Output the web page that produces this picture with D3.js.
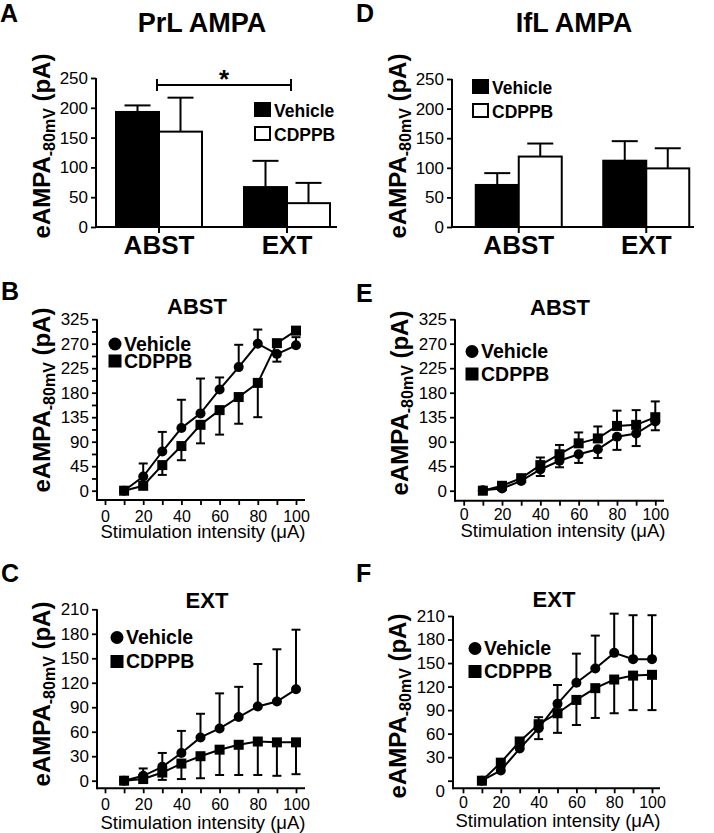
<!DOCTYPE html>
<html>
<head>
<meta charset="utf-8">
<script src="https://cdn.jsdelivr.net/npm/d3@7"></script>
<style>
body { margin: 0; background: #fff; }
svg { display: block; font-family: "Liberation Sans", Arial, sans-serif; }
</style>
</head>
<body>
<script>
// ---- data ----
var groups = ["ABST", "EXT"];
var seriesNames = ["Vehicle", "CDPPB"];

// A: PrL AMPA (bars, mean + sem)
var prlVehicle = [193, 67];
var prlVehicleSem = [11, 44];
var prlCdppb = [160, 40];
var prlCdppbSem = [57, 34];

// D: IfL AMPA
var iflVehicle = [71, 112];
var iflVehicleSem = [20, 33];
var iflCdppb = [119, 99];
var iflCdppbSem = [22, 34];

var intensity = [10, 20, 30, 40, 50, 60, 70, 80, 90, 100];

// sem: positive = bar drawn upward, negative = drawn downward
// B: PrL ABST
var prlAbstVehicle = [0, 26, 72, 115, 142, 186, 227, 270, 251, 267];
var prlAbstVehicleSem = [0, 24, 36, 52, 64, 22, 41, 26, -14, 15];
var prlAbstCdppb = [0, 9, 47, 82, 121, 148, 172, 198, 271, 294];
var prlAbstCdppbSem = [0, 0, -18, -26, -34, -45, -49, -63, 0, 0];

// C: PrL EXT
var prlExtVehicle = [0, 6, 17, 34, 53, 64, 78, 91, 97, 112];
var prlExtVehicleSem = [0, 9, 17, 27, 29, 43, 37, 52, 64, 73];
var prlExtCdppb = [0, 2, 10, 21, 30, 38, 44, 48, 47, 47];
var prlExtCdppbSem = [0, 0, -9, -19, -27, -31, -37, -41, -41, -39];

// E: IfL ABST
var iflAbstVehicle = [1, 4, 18, 39, 55, 67, 76, 99, 105, 127];
var iflAbstVehicleSem = [0, 0, 0, -12, -12, -16, -16, -24, -23, -16];
var iflAbstCdppb = [0, 9, 23, 47, 67, 87, 96, 119, 121, 135];
var iflAbstCdppbSem = [0, 0, 0, 14, 17, 20, 22, 28, 27, 29];

// F: IfL EXT
var iflExtVehicle = [0, 13, 41, 67, 98, 125, 143, 163, 155, 155];
var iflExtVehicleSem = [0, 0, 0, 14, 24, 37, 42, 50, 56, 56];
var iflExtCdppb = [0, 23, 50, 72, 86, 103, 118, 129, 134, 135];
var iflExtCdppbSem = [0, 0, 0, -19, -25, -32, -38, -43, -44, -45];

// tick values / labels
var barTicks = [0, 50, 100, 150, 200, 250];
var abstTicks = [0, 45, 90, 135, 180, 225, 270, 315];
var abstTickLabels = ["0", "45", "90", "135", "180", "225", "270", "325"];
var abstMinor = [22.5, 67.5, 112.5, 157.5, 202.5, 247.5, 292.5];
var extTicks = [0, 30, 60, 90, 120, 150, 180, 210];
var xTicks = [0, 10, 20, 30, 40, 50, 60, 70, 80, 90, 100];

var svg = d3.select("body").append("svg")
    .attr("width", 714)
    .attr("height", 833);

svg.append("rect").attr("width", 714).attr("height", 833).attr("fill", "#fff");

function panelLetter(t, x, y) {
    svg.append("text").attr("x", x).attr("y", y)
        .attr("font-size", 25).attr("font-weight", "bold")
        .text(t);
}

function yLabel(x, y) {
    var t = svg.append("text")
        .attr("transform", "translate(" + x + "," + y + ") rotate(-90)")
        .attr("text-anchor", "middle")
        .attr("font-size", 24).attr("font-weight", "bold");
    t.append("tspan").text("eAMPA");
    t.append("tspan").attr("font-size", 16).attr("dy", 5).text("-80mV");
    t.append("tspan").attr("dy", -5).text(" (pA)");
}

function styleAxis(g, size) {
    g.attr("font-family", null).attr("font-size", size);
    g.selectAll(".tick line").attr("stroke-width", 1.8);
    g.selectAll(".tick text").filter(function() { return this.textContent === ""; }).remove();
    g.select(".domain").remove();
}

// ---- bar panels (A, D) ----
function barPanel(p) {
    var y = d3.scaleLinear().domain([0, 250]).range([p.y0, p.yTop]);
    var x = d3.scaleBand().domain(groups).range(p.band);
    var sub = d3.scaleBand().domain(seriesNames).range([0, 2 * p.barW]);

    panelLetter(p.letter, p.letterX, 22);
    svg.append("text").attr("x", p.titleX).attr("y", 32)
        .attr("text-anchor", "middle").attr("font-size", 27).attr("font-weight", "bold")
        .text(p.title);
    yLabel(p.axisX - 46, 146);

    var ya = svg.append("g").attr("transform", "translate(" + p.axisX + ",0)")
        .call(d3.axisLeft(y).tickValues(barTicks).tickSize(5).tickPadding(3));
    styleAxis(ya, 17);

    var rows = groups.map(function(g, i) {
        return [
            { g: g, s: "Vehicle", v: p.veh[i], e: p.vehSem[i], fill: "#000" },
            { g: g, s: "CDPPB", v: p.cd[i], e: p.cdSem[i], fill: "#fff" }
        ];
    });
    var flat = [].concat.apply([], rows);

    // error bars (upward only)
    var eb = svg.append("g").attr("stroke", "#000").attr("stroke-width", 2);
    flat.forEach(function(d) {
        var cx = x(d.g) + x.bandwidth() / 2 - p.barW + sub(d.s) + sub.bandwidth() / 2;
        eb.append("line").attr("x1", cx).attr("x2", cx).attr("y1", y(d.v)).attr("y2", y(d.v + d.e));
        eb.append("line").attr("x1", cx - 13).attr("x2", cx + 13).attr("y1", y(d.v + d.e)).attr("y2", y(d.v + d.e));
    });

    svg.append("g").selectAll("rect").data(flat).enter().append("rect")
        .attr("x", function(d) { return x(d.g) + x.bandwidth() / 2 - p.barW + sub(d.s); })
        .attr("y", function(d) { return y(d.v); })
        .attr("width", sub.bandwidth())
        .attr("height", function(d) { return y(0) - y(d.v); })
        .attr("fill", function(d) { return d.fill; })
        .attr("stroke", "#000").attr("stroke-width", 2);

    // axes lines
    svg.append("line").attr("x1", p.axisX).attr("x2", p.axisX)
        .attr("y1", y(250)).attr("y2", y(0) + 1).attr("stroke", "#000").attr("stroke-width", 2);
    svg.append("line").attr("x1", p.axisX).attr("x2", p.xEnd)
        .attr("y1", y(0)).attr("y2", y(0)).attr("stroke", "#000").attr("stroke-width", 2);
    groups.forEach(function(g) {
        var cx = x(g) + x.bandwidth() / 2;
        svg.append("line").attr("x1", cx).attr("x2", cx).attr("y1", y(0)).attr("y2", y(0) + 6)
            .attr("stroke", "#000").attr("stroke-width", 2);
        svg.append("text").attr("x", cx).attr("y", 254)
            .attr("text-anchor", "middle").attr("font-size", 26).attr("font-weight", "bold")
            .text(g);
    });

    // legend
    [["Vehicle", "#000"], ["CDPPB", "#fff"]].forEach(function(l, i) {
        var ly = p.legY + i * 24;
        svg.append("rect").attr("x", p.legX).attr("y", ly - 14).attr("width", 15).attr("height", 13)
            .attr("fill", l[1]).attr("stroke", "#000").attr("stroke-width", 2);
        svg.append("text").attr("x", p.legX + 19).attr("y", ly)
            .attr("font-size", 17.5).attr("font-weight", "bold").text(l[0]);
    });
    return { x: x, y: y };
}

var pa = barPanel({
    letter: "A", letterX: 0, title: "PrL AMPA", titleX: 202,
    axisX: 96, xEnd: 337, y0: 227, yTop: 78, band: [95, 351], barW: 43,
    veh: prlVehicle, vehSem: prlVehicleSem, cd: prlCdppb, cdSem: prlCdppbSem,
    legX: 255, legY: 117
});

// significance bracket ABST vs EXT in A
(function() {
    var x1 = pa.x("ABST") + pa.x.bandwidth() / 2 - 2, x2 = pa.x("EXT") + pa.x.bandwidth() / 2 + 4;
    var g = svg.append("g").attr("stroke", "#000").attr("stroke-width", 2);
    g.append("line").attr("x1", x1).attr("x2", x2).attr("y1", 85).attr("y2", 85);
    g.append("line").attr("x1", x1).attr("x2", x1).attr("y1", 79).attr("y2", 91);
    g.append("line").attr("x1", x2).attr("x2", x2).attr("y1", 79).attr("y2", 91);
    svg.append("text").attr("x", (x1 + x2) / 2).attr("y", 88)
        .attr("text-anchor", "middle").attr("font-size", 26).attr("font-weight", "bold").text("*");
})();

barPanel({
    letter: "D", letterX: 356, title: "IfL AMPA", titleX: 574,
    axisX: 452, xEnd: 694, y0: 227, yTop: 79, band: [455, 710], barW: 43,
    veh: iflVehicle, vehSem: iflVehicleSem, cd: iflCdppb, cdSem: iflCdppbSem,
    legX: 473, legY: 94
});

// ---- line panels (B, C, E, F) ----
function linePanel(p) {
    var x = d3.scaleLinear().domain([0, 100]).range(p.xRange);
    var y = d3.scaleLinear().domain([0, p.yMax]).range([p.y0, p.yTop]);

    panelLetter(p.letter, p.letterX, p.letterY);
    svg.append("text").attr("x", p.titleX).attr("y", p.titleY)
        .attr("text-anchor", "middle").attr("font-size", 22).attr("font-weight", "bold")
        .text(p.title);
    yLabel(p.axisX - 47, p.ylabY);

    var ya = svg.append("g").attr("transform", "translate(" + p.axisX + ",0)")
        .call(d3.axisLeft(y).tickValues(p.yTicks).tickSize(5).tickPadding(3)
            .tickFormat(function(d, i) { return p.yTickLabels ? p.yTickLabels[i] : d; }));
    styleAxis(ya, 17);
    if (p.zeroShift) {
        ya.selectAll(".tick text").filter(function(d) { return d === 0; })
            .attr("transform", "translate(0," + p.zeroShift + ")");
    }
    if (p.minor) {
        var ym = svg.append("g").attr("transform", "translate(" + p.axisX + ",0)")
            .call(d3.axisLeft(y).tickValues(p.minor).tickSize(5).tickFormat(""));
        styleAxis(ym, 17);
    }

    var xa = svg.append("g").attr("transform", "translate(0," + p.xAxisY + ")")
        .call(d3.axisBottom(x).tickValues(xTicks).tickSize(5)
            .tickPadding(p.tickLabelY - p.xAxisY - 5 - 11.4)
            .tickFormat(function(d) { return d % 20 === 0 ? d : ""; }));
    styleAxis(xa, 16);

    svg.append("line").attr("x1", p.axisX).attr("x2", p.axisX)
        .attr("y1", p.yTop).attr("y2", p.xAxisY + 1).attr("stroke", "#000").attr("stroke-width", 2);
    svg.append("line").attr("x1", p.axisX).attr("x2", p.xEnd)
        .attr("y1", p.xAxisY).attr("y2", p.xAxisY).attr("stroke", "#000").attr("stroke-width", 2);

    svg.append("text").attr("x", p.xLabelX).attr("y", p.xLabelY)
        .attr("text-anchor", "middle").attr("font-size", 18.5)
        .text("Stimulation intensity (\u03bcA)");

    var line = d3.line()
        .x(function(d) { return x(d.i); })
        .y(function(d) { return y(d.v); });

    function series(vals, sems, shape) {
        var data = intensity.map(function(v, k) { return { i: v, v: vals[k], e: sems[k] }; });
        var eb = svg.append("g").attr("stroke", "#000").attr("stroke-width", 2);
        data.forEach(function(d) {
            if (!d.e) return;
            var cx = x(d.i), yEnd = y(d.v + d.e);
            eb.append("line").attr("x1", cx).attr("x2", cx).attr("y1", y(d.v)).attr("y2", yEnd);
            eb.append("line").attr("x1", cx - 4.5).attr("x2", cx + 4.5).attr("y1", yEnd).attr("y2", yEnd);
        });
        svg.append("path").datum(data)
            .attr("fill", "none").attr("stroke", "#000").attr("stroke-width", 2)
            .attr("d", line);
        var m = svg.append("g").selectAll(".m").data(data).enter();
        if (shape === "circle") {
            m.append("circle").attr("cx", function(d) { return x(d.i); })
                .attr("cy", function(d) { return y(d.v); }).attr("r", 5);
        } else {
            m.append("rect").attr("x", function(d) { return x(d.i) - 5; })
                .attr("y", function(d) { return y(d.v) - 5; })
                .attr("width", 10).attr("height", 10);
        }
    }
    series(p.veh, p.vehSem, "circle");
    series(p.cd, p.cdSem, "square");

    // legend
    svg.append("circle").attr("cx", p.legX).attr("cy", p.legY1).attr("r", 6.5);
    svg.append("rect").attr("x", p.legX - 6.5).attr("y", p.legY2 - 6.5).attr("width", 13).attr("height", 13);
    svg.append("text").attr("x", p.legX + 9).attr("y", p.legY1 + 6.5)
        .attr("font-size", 19.5).attr("font-weight", "bold").text("Vehicle");
    svg.append("text").attr("x", p.legX + 9).attr("y", p.legY2 + 6.5)
        .attr("font-size", 19.5).attr("font-weight", "bold").text("CDPPB");
}

linePanel({
    letter: "B", letterX: 1, letterY: 300, title: "ABST", titleX: 197, titleY: 314,
    axisX: 97, xEnd: 305, xAxisY: 500, xRange: [105, 296], y0: 490.7, yTop: 319.2, yMax: 315,
    yTicks: abstTicks, yTickLabels: abstTickLabels, minor: abstMinor,
    ylabY: 400, tickLabelY: 522, xLabelX: 203, xLabelY: 538,
    veh: prlAbstVehicle, vehSem: prlAbstVehicleSem, cd: prlAbstCdppb, cdSem: prlAbstCdppbSem,
    legX: 115, legY1: 344, legY2: 361
});

linePanel({
    letter: "C", letterX: 1, letterY: 582, title: "EXT", titleX: 207, titleY: 608,
    axisX: 97, xEnd: 305, xAxisY: 788.3, xRange: [105, 296], y0: 780.7, yTop: 609.3, yMax: 210,
    yTicks: extTicks,
    ylabY: 694, tickLabelY: 810.5, xLabelX: 203, xLabelY: 829,
    veh: prlExtVehicle, vehSem: prlExtVehicleSem, cd: prlExtCdppb, cdSem: prlExtCdppbSem,
    legX: 117, legY1: 637.5, legY2: 661.5
});

linePanel({
    letter: "E", letterX: 356, letterY: 302, title: "ABST", titleX: 560, titleY: 315,
    axisX: 455, xEnd: 664, xAxisY: 500.7, xRange: [463.7, 655.3], y0: 490.7, yTop: 319.2, yMax: 315,
    yTicks: abstTicks, yTickLabels: abstTickLabels,
    ylabY: 403, tickLabelY: 520, xLabelX: 563, xLabelY: 537,
    veh: iflAbstVehicle, vehSem: iflAbstVehicleSem, cd: iflAbstCdppb, cdSem: iflAbstCdppbSem,
    legX: 472, legY1: 351.5, legY2: 374
});

linePanel({
    letter: "F", letterX: 356, letterY: 582, title: "EXT", titleX: 554, titleY: 607,
    axisX: 453, xEnd: 660, xAxisY: 788.3, xRange: [463, 652], y0: 780.7, yTop: 616, yMax: 210,
    yTicks: extTicks, zeroShift: 10,
    ylabY: 706, tickLabelY: 808, xLabelX: 558, xLabelY: 827,
    veh: iflExtVehicle, vehSem: iflExtVehicleSem, cd: iflExtCdppb, cdSem: iflExtCdppbSem,
    legX: 475, legY1: 648.5, legY2: 671.5
});
</script>
</body>
</html>
